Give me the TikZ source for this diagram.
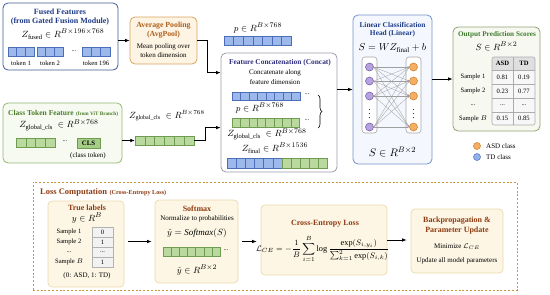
\documentclass[tikz,border=0pt]{standalone}
\usepackage{amsmath,amssymb}
\usepackage{fontspec}
\setmainfont{Liberation Serif}
\usetikzlibrary{arrows.meta,calc,decorations.pathreplacing}

\definecolor{fusedB}{HTML}{3F5A96}
\definecolor{fusedT}{HTML}{1F3C88}
\definecolor{cellBf}{HTML}{9DB9EC}
\definecolor{cellBd}{HTML}{4A6FB8}
\definecolor{cellGf}{HTML}{B9D99F}
\definecolor{cellGd}{HTML}{6E9C50}
\definecolor{clsTokF}{HTML}{A5CD86}
\definecolor{avgB}{HTML}{D9A45C}
\definecolor{avgF}{HTML}{FDF4E3}
\definecolor{avgT}{HTML}{B0601C}
\definecolor{clsB}{HTML}{93B874}
\definecolor{clsF}{HTML}{F6FAF0}
\definecolor{clsT}{HTML}{4B7B2B}
\definecolor{catB}{HTML}{9B9BAA}
\definecolor{catT}{HTML}{2E2E7E}
\definecolor{linB}{HTML}{7392C9}
\definecolor{linF}{HTML}{F4F7FD}
\definecolor{outB}{HTML}{8FA173}
\definecolor{outF}{HTML}{F7F9F1}
\definecolor{outT}{HTML}{3C7A2C}
\definecolor{lossB}{HTML}{C8963F}
\definecolor{lossF}{HTML}{FDF6E4}
\definecolor{lossD}{HTML}{EBD9AC}
\definecolor{lossT}{HTML}{8E3B12}
\definecolor{purpF}{HTML}{B7A2DE}
\definecolor{purpD}{HTML}{6E55A6}
\definecolor{orgF}{HTML}{F6AE62}
\definecolor{orgD}{HTML}{C77D2E}
\definecolor{tdF}{HTML}{8FB2EC}
\definecolor{tdD}{HTML}{4A6FB8}

\newcommand\myTitleFont{\fontsize{8}{9}\selectfont\bfseries}
\newcommand\mySubFont{\fontsize{7.8}{8.5}\selectfont\bfseries}
\newcommand\myTextFont{\fontsize{7}{8}\selectfont}
\newcommand\mySmallFont{\fontsize{6.6}{7.5}\selectfont}
\newcommand\myMathFont{\fontsize{9.3}{10}\selectfont}
\newcommand\myDots{...}
\newcommand\myCells[6]{\foreach \k in {1,...,#4}{\path[#1] ({#2+(\k-1)*#5},#3) rectangle ++(#5,#6);}}

\begin{document}
\begin{tikzpicture}[x=1pt,y=-1pt,
  arr/.style={-{Latex[length=4.5pt,width=3.6pt]}, line width=0.75pt, black},
  t/.style={inner sep=0pt, align=center},
  bc/.style={draw=cellBd, fill=cellBf, line width=0.4pt},
  gc/.style={draw=cellGd, fill=cellGf, line width=0.4pt},
  rbox/.style={rounded corners=5pt, line width=0.8pt, inner sep=0pt},
  lbox/.style={draw=lossD, fill=lossF, rounded corners=4pt, line width=0.7pt, inner sep=0pt},
  neur/.style={circle, minimum size=8pt, inner sep=0pt, line width=0.5pt},
  cellbox/.style={draw=gray!60, fill=gray!10, line width=0.4pt, minimum width=21pt, minimum height=10pt, inner sep=0pt, font=\mySmallFont}
]
\useasboundingbox (0,0) rectangle (550,295);

% ---------------- Fused features ----------------
\node[rbox, draw=fusedB, fill=white, minimum width=115pt, minimum height=67pt] (fused) at (60.5,36.5) {};
\node[t, text=fusedT, font=\myTitleFont] at (60,12) {Fused Features};
\node[t, text=fusedT, font=\myTitleFont] at (60,22) {(from Gated Fusion Module)};
\node[t, font=\myMathFont] at (63,34) {$Z_{\mathrm{fused}}\in R^{B\times196\times768}$};
\myCells{bc}{8}{47}{3}{8.67}{9}
\myCells{bc}{37}{47}{3}{8.67}{9}
\myCells{bc}{82}{47}{3}{9.33}{9}
\node[t, font=\mySmallFont] at (74,51) {\myDots};
\node[t, font=\mySmallFont] at (21,63) {token 1};
\node[t, font=\mySmallFont] at (50,63) {token 2};
\node[t, font=\mySmallFont] at (96,63) {token 196};

% ---------------- Average pooling ----------------
\node[rbox, draw=avgB, fill=avgF, minimum width=67pt, minimum height=47pt] (avg) at (163.5,40.5) {};
\node[t, text=avgT, font=\mySubFont] at (163.5,26) {Average Pooling};
\node[t, text=avgT, font=\mySubFont] at (163.5,35) {(AvgPool)};
\node[t, font=\myTextFont] at (163.5,47) {Mean pooling over};
\node[t, font=\myTextFont] at (163.5,55) {token dimension};

% ---------------- p vector ----------------
\node[t, font=\myMathFont] at (258,28) {$p\in R^{B\times768}$};
\myCells{bc}{224}{36}{7}{9.57}{9}

% ---------------- Class token ----------------
\node[rbox, draw=clsB, fill=clsF, minimum width=119pt, minimum height=60pt] (cls) at (62.5,133) {};
\node[t, anchor=west, text=clsT] at (8,113) {{\fontsize{7.5}{8.5}\selectfont\bfseries Class Token Feature} {\fontsize{5.2}{6}\selectfont\bfseries (from ViT Branch)}};
\node[t, font=\myMathFont] at (59,125) {$Z_{\mathrm{global\_cls}}\ \in R^{B\times768}$};
\myCells{gc}{16}{138}{4}{9.75}{9}
\node[t, font=\mySmallFont] at (65,141) {\myDots};
\node[draw=cellGd, fill=clsTokF, line width=0.4pt, minimum width=23pt, minimum height=10pt, inner sep=0pt, font=\fontsize{6.8}{7}\selectfont\bfseries] (clsTok) at (88.5,143) {CLS};
\node[t, font=\myTextFont] at (88,155.5) {(class token)};

% external global cls vector
\node[t, font=\fontsize{9}{10}\selectfont] at (167,116) {$Z_{\mathrm{global\_cls}}\;\in R^{B\times768}$};
\node[minimum width=59pt, minimum height=9pt, inner sep=0pt] (gvec) at (164.5,140.5) {};
\myCells{gc}{135}{136}{6}{9.83}{9}

% ---------------- Concat ----------------
\node[rbox, draw=catB, fill=white, minimum width=116pt, minimum height=119pt] (concat) at (279,112.5) {};
\node[t, text=catT, font=\fontsize{7.4}{8}\selectfont\bfseries] at (280,63) {Feature Concatenation (Concat)};
\node[t, font=\myTextFont] at (275,73) {Concatenate along};
\node[t, font=\myTextFont] at (275,82) {feature dimension};
\myCells{bc}{232}{92}{8}{8.5}{8.5}
\node[t, font=\mySmallFont] at (307,94) {\myDots};
\node[t, font=\myMathFont] at (260,108) {$p\in R^{B\times768}$};
\myCells{gc}{232}{118}{8}{8.4}{9}
\node[t, font=\mySmallFont] at (307,120) {\myDots};
\draw[decorate, decoration={brace, amplitude=4pt}, line width=0.6pt] (318,95) -- (318,128);
\node[t, font=\myMathFont] at (267,134) {$Z_{\mathrm{global\_cls}}\ \in R^{B\times768}$};
\node[t, font=\myMathFont] at (275,148) {$Z_{\mathrm{final}}\in R^{B\times1536}$};
\myCells{bc}{227}{158}{6}{9.17}{10}
\myCells{gc}{282}{158}{5}{9}{10}

% ---------------- Linear head ----------------
\node[rbox, draw=linB, fill=linF, minimum width=79pt, minimum height=149pt] (lin) at (392.5,89.5) {};
\node[t, text=fusedT, font=\fontsize{7.4}{8}\selectfont\bfseries] at (392.5,25) {Linear Classification};
\node[t, text=fusedT, font=\fontsize{7.4}{8}\selectfont\bfseries] at (392.5,34) {Head (Linear)};
\node[t, font=\fontsize{10}{11}\selectfont] at (392.5,48) {$S = WZ_{\mathrm{final}} + b$};
\draw[gray!70, fill=white, rounded corners=3pt, line width=0.6pt] (362,57) rectangle (377,133);
\draw[gray!70, fill=white, rounded corners=3pt, line width=0.6pt] (406,57) rectangle (421,133);
\foreach \i/\yy in {1/67,2/81,3/96,4/127}{
  \node[neur, draw=purpD, fill=purpF] (l\i) at (369.5,\yy) {};
  \node[neur, draw=orgD, fill=orgF] (r\i) at (413.5,\yy) {};
}
\node[t, font=\myMathFont] at (369.5,111) {$\vdots$};
\node[t, font=\myMathFont] at (413.5,111) {$\vdots$};
\foreach \i in {1,...,4}{\foreach \j in {1,...,4}{
  \draw[gray!75, line width=0.3pt, -{Latex[length=1.6pt,width=1.6pt]}] (l\i.east) -- (r\j.west);
}}
\node[t, font=\fontsize{11}{12}\selectfont] at (392.5,152) {$S\in R^{B\times2}$};

% ---------------- Output ----------------
\node[rbox, draw=outB, fill=outF, minimum width=87pt, minimum height=104pt] (out) at (496.5,79) {};
\node[t, text=outT, font=\fontsize{7.2}{8}\selectfont\bfseries] at (497,35) {Output Prediction Scores};
\node[t, font=\myMathFont] at (496.5,46) {$S\in R^{B\times2}$};
\fill[gray!25] (492,57) rectangle (535,70);
\fill[gray!6] (492,70) rectangle (535,125);
\draw[gray!65, line width=0.5pt] (492,70) -- (535,70) (492,84) -- (535,84) (492,98) -- (535,98) (492,112) -- (535,112) (513,57) -- (513,125);
\draw[gray!65, line width=0.6pt, rounded corners=2pt] (492,57) rectangle (535,125);
\node[t, font=\fontsize{6.6}{7}\selectfont\bfseries] at (502.5,63.5) {ASD};
\node[t, font=\fontsize{6.6}{7}\selectfont\bfseries] at (524,63.5) {TD};
\foreach \yy/\lab/\a/\b in {77/Sample 1/0.81/0.19, 91/Sample 2/0.23/0.77, 105/\myDots/\myDots/\myDots, 118.5/Sample $B$/0.15/0.85}{
  \node[t, font=\mySmallFont] at (473,\yy) {\lab};
  \node[t, font=\mySmallFont] at (502.5,\yy) {\a};
  \node[t, font=\mySmallFont] at (524,\yy) {\b};
}
\node[neur, minimum size=7pt, draw=orgD, fill=orgF] (legA) at (477,146) {};
\node[t, anchor=west, font=\myTextFont] at (486,146) {ASD class};
\node[neur, minimum size=7pt, draw=tdD, fill=tdF] (legT) at (477,157) {};
\node[t, anchor=west, font=\myTextFont] at (486,157) {TD class};

% ---------------- Top connectors ----------------
\draw[arr] (fused.east |- avg.west) -- (avg.west);
\draw[arr] (avg.east) -- ++(10,0) |- ($(concat.north west)+(0,20)$);
\draw[arr] (cls.east |- gvec.west) -- (gvec.west);
\draw[arr] (gvec.east) -- ++(11,0) |- ($(concat.north west)+(0,75)$);
\draw[arr] (concat.east |- lin.west) -- (lin.west);
\draw[arr] (lin.east |- out.west) -- (out.west);

% ---------------- Loss section ----------------
\node[draw=lossB, line width=0.8pt, dash pattern=on 2pt off 1.8pt, minimum width=484pt, minimum height=108pt, inner sep=0pt] (loss) at (275,236) {};
\node[t, anchor=west, text=lossT] at (40,192) {{\fontsize{8.5}{9}\selectfont\bfseries Loss Computation} {\fontsize{6.2}{7}\selectfont\bfseries (Cross-Entropy Loss)}};

% True labels
\node[lbox, minimum width=76pt, minimum height=86pt] (tl) at (86,244) {};
\node[t, text=lossT, font=\myTitleFont] at (87,208) {True labels};
\node[t, font=\myMathFont] at (87,218) {$y\in R^{B}$};
\foreach \yy/\lab/\v in {232/Sample 1/0, 242/Sample 2/1, 252/\myDots/\myDots, 262/Sample $B$/1}{
  \node[t, font=\mySmallFont] at (69,\yy) {\lab};
  \node[cellbox] at (102.5,\yy) {\v};
}
\node[t, font=\myTextFont] at (87,275.5) {(0: ASD, 1: TD)};

% Softmax
\node[lbox, minimum width=83pt, minimum height=83pt] (sm) at (196.5,241.5) {};
\node[t, text=lossT, font=\myTitleFont] at (197,208.5) {Softmax};
\node[t, font=\myTextFont] at (197,218.5) {Normalize to probabilities};
\node[t, font=\fontsize{9}{10}\selectfont] at (197,233) {$\hat{y} = \mathit{Softmax}(S)$};
\myCells{gc}{163}{247}{7}{8.14}{9}
\node[t, font=\mySmallFont] at (226,250) {\myDots};
\node[t, font=\myMathFont] at (197,270) {$\hat{y}\in R^{B\times2}$};

% Cross entropy
\node[lbox, minimum width=126pt, minimum height=70pt] (ce) at (324,240) {};
\node[t, text=lossT, font=\myTitleFont] at (325,224) {Cross-Entropy Loss};
\node[t, font=\fontsize{8.3}{9}\selectfont] at (322.5,249) {$\displaystyle \mathcal{L}_{CE} = -\frac{1}{B}\sum_{i=1}^{B}\log\frac{\exp(S_{i,y_i})}{\sum_{k=1}^{2}\exp(S_{i,k})}$};

% Backprop
\node[lbox, minimum width=92pt, minimum height=64pt] (bp) at (457,241) {};
\node[t, text=lossT, font=\myTitleFont] at (457,221) {Backpropagation \&};
\node[t, text=lossT, font=\myTitleFont] at (457,231) {Parameter Update};
\node[t, font=\myTextFont] at (457,247) {Minimize $\mathcal{L}_{CE}$};
\node[t, font=\myTextFont] at (457,261) {Update all model parameters};

\draw[arr, shorten <=4pt, shorten >=3pt] (tl.east |- sm.west) -- (sm.west);
\draw[arr, shorten <=4pt, shorten >=4pt] (sm.east) -- (sm.east -| ce.west);
\draw[arr, shorten >=4pt] (ce.east) -- (ce.east -| bp.west);
\end{tikzpicture}
\end{document}
